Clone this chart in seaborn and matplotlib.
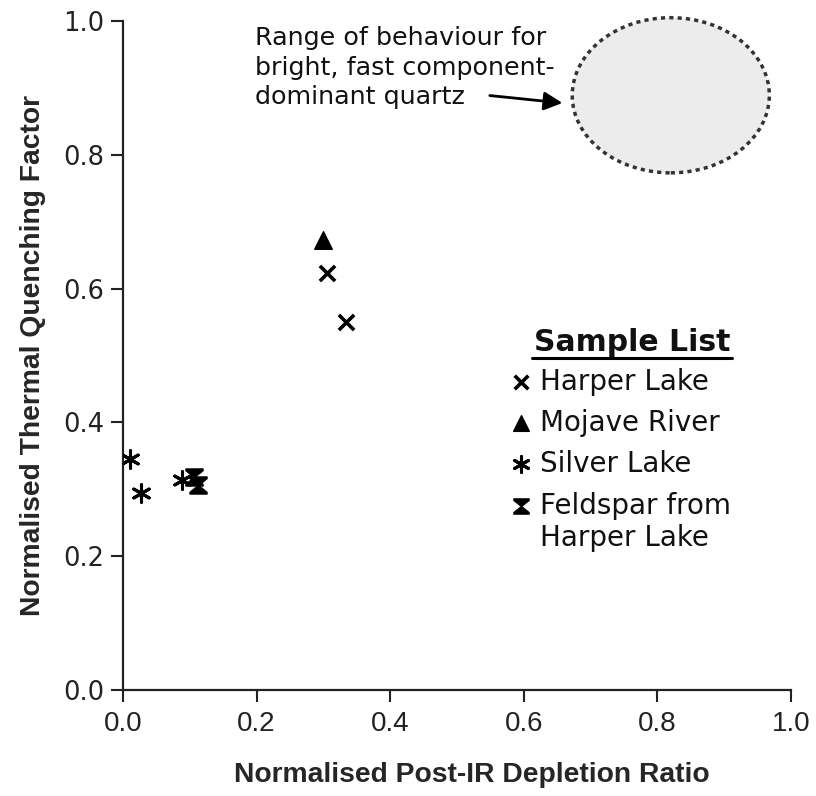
import numpy as np
import pandas as pd
import seaborn as sns
import matplotlib.pyplot as plt
from matplotlib.path import Path
from matplotlib.patches import Ellipse

# values
harper_x = [0.305, 0.334]
harper_y = [0.623, 0.550]
mojave_x = [0.299]
mojave_y = [0.673]
silver_x = [0.010, 0.027, 0.088]
silver_y = [0.345, 0.294, 0.314]
feldspar_x = [0.106, 0.112]
feldspar_y = [0.318, 0.307]
quartz_x, quartz_y = 0.820, 0.889
quartz_w, quartz_h = 0.295, 0.232

ticks = [0.0, 0.2, 0.4, 0.6, 0.8, 1.0]
tick_labels = ["0.0", "0.2", "0.4", "0.6", "0.8", "1.0"]

hourglass = Path([(-1, 1), (1, 1), (1, 0.75), (0.08, 0), (1, -0.75), (1, -1),
                  (-1, -1), (-1, -0.75), (-0.08, 0), (-1, 0.75), (-1, 1)])
asterisk = (6, 2, 0)

groups = [
    ("Harper Lake", harper_x, harper_y, "x", 120, 2.6),
    ("Mojave River", mojave_x, mojave_y, "^", 160, 1.0),
    ("Silver Lake", silver_x, silver_y, asterisk, 160, 2.2),
    ("Feldspar from\nHarper Lake", feldspar_x, feldspar_y, hourglass, 160, 0.5),
]

sns.set_style("white")
plt.rcParams['font.family'] = ['DejaVu Sans']
narrow = ["Liberation Sans Narrow", "Liberation Sans"]

fig = plt.figure(figsize=(8.16, 7.96), dpi=100)
ax = fig.add_axes([0.1507, 0.1332, 0.8187, 0.8404])

for name, xs, ys, mk, sz, lw in groups:
    df = pd.DataFrame({"x": xs, "y": ys})
    sns.scatterplot(data=df, x="x", y="y", marker=mk, s=sz, color="black",
                    edgecolor="black", linewidth=lw, ax=ax, zorder=3)

ax.add_patch(Ellipse((quartz_x, quartz_y), quartz_w, quartz_h, facecolor="#ececec",
                     edgecolor="#333333", linestyle=(0, (1.2, 1.2)), linewidth=2.5,
                     clip_on=False, zorder=2))
ax.text(0.198, 0.992, "Range of behaviour for\nbright, fast component-\ndominant quartz",
        fontsize=18.3, va="top", ha="left", linespacing=1.28, color="#111111")
ax.annotate("", xy=(0.662, 0.877), xytext=(0.545, 0.889),
            arrowprops=dict(arrowstyle="-|>", color="black", lw=2, mutation_scale=28))

# legend drawn by hand so the title can be underlined
ax.text(0.762, 0.520, "Sample List", transform=ax.transAxes, ha="center", va="center",
        fontsize=21.5, fontweight="bold", color="#111111")
ax.plot([0.613, 0.911], [0.497, 0.497], transform=ax.transAxes, color="black",
        lw=2.2, clip_on=False)
leg_y = [0.460, 0.399, 0.338, 0.275]
for (name, xs, ys, mk, sz, lw), ly in zip(groups, leg_y):
    ax.scatter([0.596], [ly], transform=ax.transAxes, marker=mk, s=sz * 0.8,
               color="black", linewidth=lw, clip_on=False)
    lines = name.split("\n")
    for i, line in enumerate(lines):
        ax.text(0.624, ly - i * 0.048, line, transform=ax.transAxes, ha="left",
                va="center", fontsize=20, color="#111111")

ax.set_xlim(0, 1)
ax.set_ylim(0, 1)
ax.set_xticks(ticks)
ax.set_xticklabels(tick_labels, fontfamily="Liberation Sans", fontsize=20)
ax.set_yticks(ticks)
ax.set_yticklabels(tick_labels, fontsize=18.5)
ax.tick_params(axis="both", direction="out", length=8.5, width=1.5, color="#222222",
               labelcolor="#222222", left=True, bottom=True)
ax.tick_params(axis="x", pad=6.5)
ax.tick_params(axis="y", pad=5)
for s in ["top", "right"]:
    ax.spines[s].set_visible(False)
for s in ["left", "bottom"]:
    ax.spines[s].set_color("#222222")
    ax.spines[s].set_linewidth(1.6)

ax.set_xlabel("Normalised Post-IR Depletion Ratio", fontsize=20.3, fontweight="bold",
              fontfamily=narrow)
ax.xaxis.set_label_coords(0.522, -0.108)
ax.set_ylabel("Normalised Thermal Quenching Factor", fontsize=20.3, fontweight="bold",
              fontfamily=narrow, labelpad=12)

fig.savefig("out.png", dpi=100)
